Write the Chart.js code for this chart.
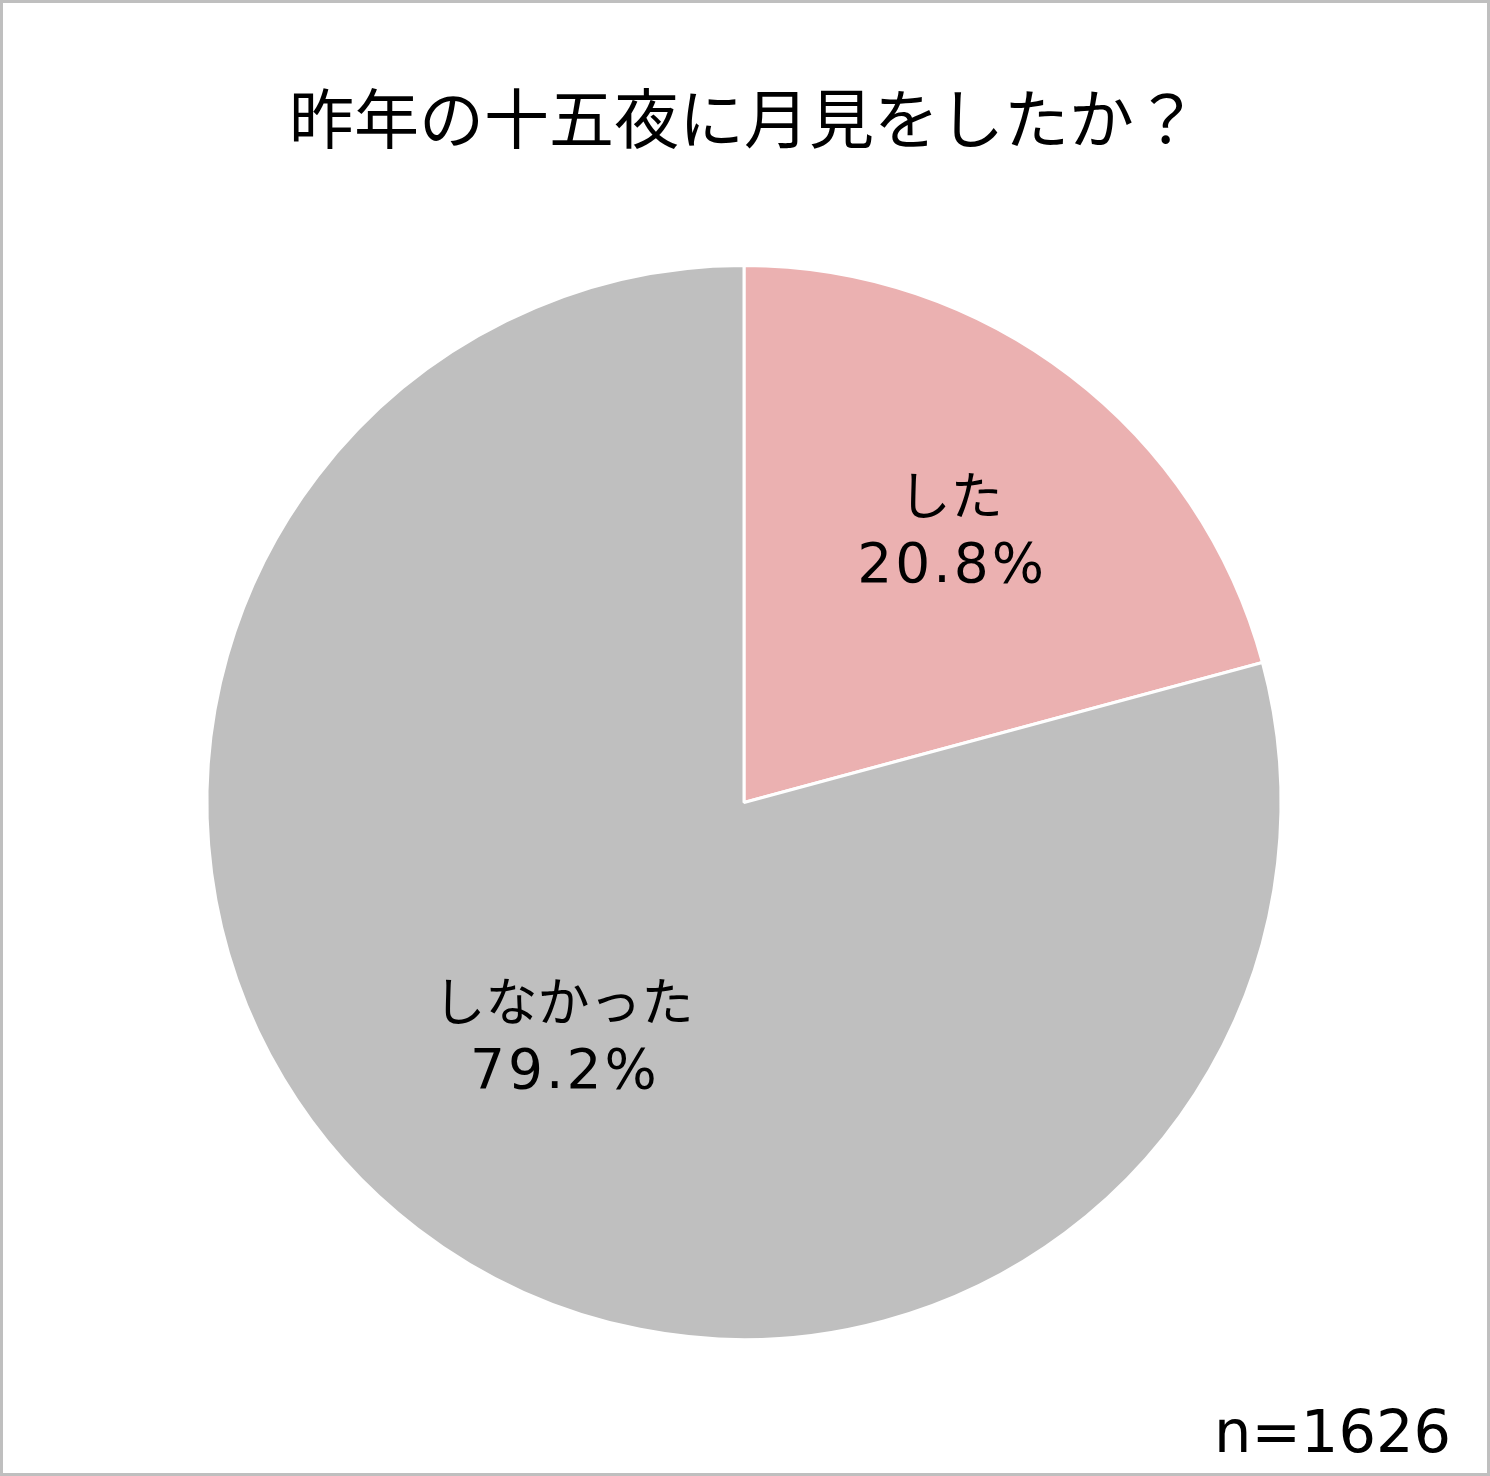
<!DOCTYPE html>
<html>
<head>
<meta charset="utf-8">
<script src="https://cdn.jsdelivr.net/npm/chart.js@4"></script>
<style>
  html, body { margin: 0; padding: 0; background: #fff; }
  #wrap {
    width: 1490px; height: 1476px; box-sizing: border-box;
    border: 3px solid #bfbfbf; background: #fff;
  }
  canvas { display: block; }
</style>
</head>
<body>
<div id="wrap"><canvas id="pieChart" width="1484" height="1470"></canvas></div>
<script>
const categories = ["した", "しなかった"];
const shares = [20.8, 79.2];
const sliceColors = ["#ebb1b1", "#bfbfbf"];
const chartTitle = "昨年の十五夜に月見をしたか？";
const sampleNote = "n=1626";

const jpFont = '"Noto Sans CJK JP", "Noto Sans", sans-serif';
const numFont = '"DejaVu Sans", "Noto Sans CJK JP", sans-serif';

// labels inside each slice, Excel-ish placement
const sliceLabels = {
  id: "sliceLabels",
  afterDatasetsDraw(chart) {
    const ctx = chart.ctx;
    const meta = chart.getDatasetMeta(0);
    const radial = [0.633, 0.553];
    ctx.save();
    ctx.fillStyle = "#000";
    ctx.textAlign = "center";
    ctx.textBaseline = "middle";
    meta.data.forEach((arc, i) => {
      const mid = (arc.startAngle + arc.endAngle) / 2;
      const r = arc.outerRadius * radial[i];
      const x = arc.x + Math.cos(mid) * r;
      const y = arc.y + Math.sin(mid) * r;
      ctx.font = "52px " + jpFont;
      ctx.letterSpacing = "0px";
      ctx.fillText(categories[i], x, y - 37);
      ctx.font = "55px " + numFont;
      ctx.letterSpacing = "3px";
      ctx.fillText(shares[i].toFixed(1) + "%", x + 1.5, y + 35);
    });
    ctx.restore();
  },
  afterDraw(chart) {
    const ctx = chart.ctx;
    ctx.save();
    ctx.fillStyle = "#000";
    ctx.textAlign = "right";
    ctx.textBaseline = "alphabetic";
    ctx.font = "59px " + numFont;
    ctx.fillText(sampleNote, chart.width - 36, chart.height - 21);
    ctx.restore();
  }
};

let pieChart;

const addPieChart = () => {
  let ctx = document.getElementById("pieChart").getContext("2d");

  pieChart = new Chart(ctx, {
    type: "pie",
    data: {
      labels: categories,
      datasets: [
        {
          data: shares,
          backgroundColor: sliceColors,
          borderColor: "#ffffff",
          borderWidth: 3,
        },
      ],
    },
    options: {
      responsive: false,
      animation: false,
      layout: {
        padding: { top: 0, bottom: 132, left: 0, right: 2 },
      },
      plugins: {
        legend: { display: false },
        tooltip: { enabled: false },
        title: {
          display: true,
          text: chartTitle,
          color: "#000",
          font: { family: jpFont, size: 65, weight: "normal", lineHeight: 1.2 },
          padding: { top: 76, bottom: 107 },
        },
      },
    },
    plugins: [sliceLabels],
  });
};

addPieChart();
</script>
</body>
</html>
